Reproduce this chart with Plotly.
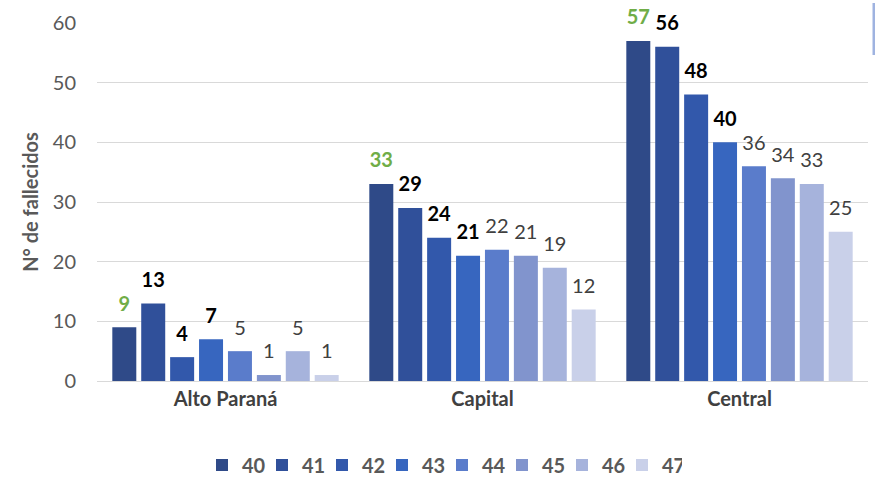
import plotly.graph_objects as go

categories = ["Alto Paraná", "Capital", "Central"]
series_names = ["40", "41", "42", "43", "44", "45", "46", "47"]
values = {
    "40": [9, 33, 57],
    "41": [13, 29, 56],
    "42": [4, 24, 48],
    "43": [7, 21, 40],
    "44": [5, 22, 36],
    "45": [1, 21, 34],
    "46": [5, 19, 33],
    "47": [1, 12, 25],
}
colors = ["#2f4a88", "#30509a", "#3258ab", "#3766bf", "#5a7ccb", "#8194cd", "#a6b3dc", "#c9d0e9"]
label_colors = ["#70AD47", "#000000", "#000000", "#000000", "#404040", "#404040", "#404040", "#404040"]
label_weights = ["bold", "bold", "bold", "bold", "normal", "normal", "normal", "normal"]

FONT = "Lato, 'Open Sans', sans-serif"

W, H = 875, 477
fig = go.Figure()
for i, s in enumerate(series_names):
    fig.add_trace(go.Bar(
        name=s, x=categories, y=values[s],
        marker=dict(color=colors[i], line=dict(width=0)),
        offsetgroup=s, alignmentgroup="g",
    ))
for i, s in enumerate(series_names):
    fig.add_trace(go.Scatter(
        name=s, x=categories, y=values[s], mode="markers+text",
        marker=dict(size=17, opacity=0, color=colors[i]),
        text=[str(v) for v in values[s]], textposition="top center",
        textfont=dict(color=label_colors[i], size=20, family=FONT, weight=label_weights[i]),
        offsetgroup=s, alignmentgroup="g",
        cliponaxis=False, showlegend=False, hoverinfo="skip",
    ))

fig.update_layout(
    width=W, height=H,
    margin=dict(l=97, r=7, t=23, b=96, autoexpand=False),
    paper_bgcolor="white", plot_bgcolor="white",
    barmode="group", bargap=0.1, bargroupgap=0.17,
    scattermode="group", scattergap=0.1,
    font=dict(family=FONT, color="#595959", size=19),
    showlegend=True,
    legend=dict(orientation="h", x=442 / W, xanchor="center", xref="container",
                y=(H - 465) / H, yanchor="middle", yref="container",
                font=dict(size=20, color="#595959", weight="bold"),
                itemwidth=30, entrywidth=15, entrywidthmode="pixels",
                traceorder="normal", tracegroupgap=0),
)
fig.update_yaxes(range=[0, 60], dtick=10, gridcolor="#d9d9d9", gridwidth=1,
                 tickfont=dict(size=20, color="#595959"), ticks="", ticklabelstandoff=20,
                 zeroline=False, showline=False,
                 title=dict(text="N° de fallecidos", font=dict(size=20, color="#595959", weight="bold"), standoff=8))
fig.update_xaxes(showline=True, linecolor="#d9d9d9", linewidth=1, ticks="",
                 tickfont=dict(size=20, color="#404040", weight="bold"))

fig.add_shape(type="line", xref="paper", yref="paper",
              x0=(874 - 97) / 771, x1=(874 - 97) / 771, y0=(381 - 3) / 358, y1=(381 - 55) / 358,
              line=dict(color="#9fb3e0", width=3))

fig.write_html("out.html", config={"displayModeBar": False},
               post_script="document.body.style.margin='0';")
